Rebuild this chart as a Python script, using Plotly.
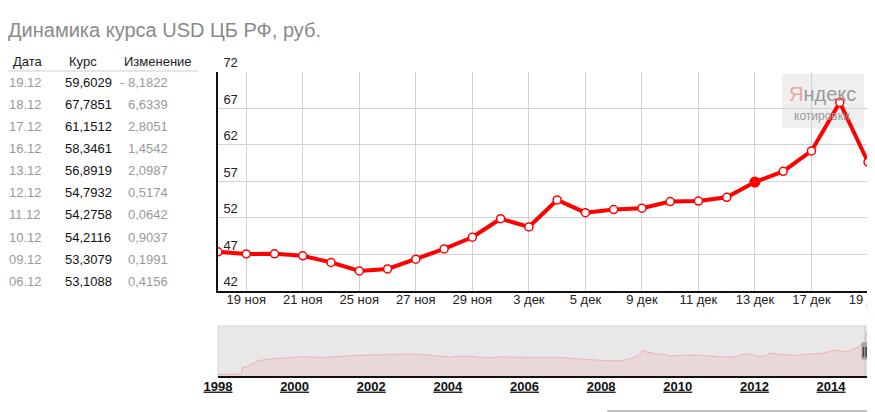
import plotly.graph_objects as go

W, H = 875, 412
OFF = 8  # page body margin
FONT = "Arial, Liberation Sans, sans-serif"

# main chart: USD rate of the CBR, 18 Nov - 19 Dec 2014
day_labels = ["18 ноя", "19 ноя", "20 ноя", "21 ноя", "22 ноя", "25 ноя", "26 ноя", "27 ноя",
              "28 ноя", "29 ноя", "2 дек", "3 дек", "4 дек", "5 дек", "6 дек", "9 дек",
              "10 дек", "11 дек", "12 дек", "13 дек", "16 дек", "17 дек", "18 дек", "19 дек"]
rates = [47.32, 47.04, 47.05, 46.78, 45.88, 44.70, 44.98, 46.32,
         47.72, 49.32, 51.86, 50.73, 54.43, 52.6932, 53.1088, 53.3079,
         54.2116, 54.2758, 54.7932, 56.8919, 58.3461, 61.1512, 67.7851, 59.6029]
highlight_day = "13 дек"
y_ticks = [42, 47, 52, 57, 62, 67, 72]

# table on the left
table_head = ["Дата", "Курс", "Изменение"]
table_dates = ["19.12", "18.12", "17.12", "16.12", "13.12", "12.12", "11.12", "10.12", "09.12", "06.12"]
table_rates = [59.6029, 67.7851, 61.1512, 58.3461, 56.8919, 54.7932, 54.2758, 54.2116, 53.3079, 53.1088]
table_changes = [-8.1822, 6.6339, 2.8051, 1.4542, 2.0987, 0.5174, 0.0642, 0.9037, 0.1991, 0.4156]

# navigator with the whole history
hist_dates = ["1998-01-01", "1998-08-10", "1998-08-25", "1998-10-01", "1998-12-01", "1999-01-15",
              "1999-04-01", "1999-08-01", "1999-11-01", "2000-01-15", "2000-07-01", "2000-10-15",
              "2001-03-01", "2001-06-01", "2001-12-01", "2002-05-01", "2002-09-15", "2003-01-15",
              "2003-08-01", "2004-01-15", "2004-06-01", "2004-11-15", "2005-03-01", "2005-04-15",
              "2006-03-01", "2006-10-15", "2007-04-01", "2007-09-15", "2008-02-15", "2008-07-15",
              "2008-10-15", "2008-12-15", "2009-02-01", "2009-03-20", "2009-06-10", "2009-08-15",
              "2009-10-15", "2010-01-15", "2010-07-15", "2011-02-01", "2011-07-01", "2011-09-15",
              "2011-12-15", "2012-01-15", "2012-04-15", "2012-05-20", "2012-10-15", "2013-01-20",
              "2013-06-01", "2013-10-15", "2014-02-15", "2014-05-15", "2014-07-15", "2014-09-25",
              "2014-11-10", "2014-12-16", "2014-12-19"]
hist_rates = [6.0, 6.3, 14.7, 15.5, 19.7, 22.6,
              24.7, 25.5, 26.8, 28.0, 27.6, 27.2,
              28.0, 29.3, 30.1, 30.5, 31.8, 31.4,
              29.7, 27.6, 28.9, 27.6, 26.4, 27.6,
              27.6, 27.2, 26.0, 24.7, 23.0, 23.0,
              26.0, 29.3, 36.0, 33.5, 31.4, 31.4,
              28.9, 29.7, 30.1, 28.0, 27.6, 31.4,
              31.4, 28.5, 28.5, 32.3, 31.0, 29.3,
              31.4, 32.3, 36.4, 34.3, 36.4, 40.5,
              46.8, 61.4, 57.0]
nav_years = [1998, 2000, 2002, 2004, 2006, 2008, 2010, 2012, 2014]


def px(x):
    return (x - OFF) / W


def py(y):
    return 1 - (y - OFF) / H


idx = list(range(len(rates)))
hl = day_labels.index(highlight_day)

fig = go.Figure()
fig.add_trace(go.Scatter(
    x=idx, y=rates, mode="lines+markers", xaxis="x", yaxis="y",
    line=dict(color="#ff0000", width=4),
    marker=dict(size=8, color="white", line=dict(color="#ff0000", width=1.5)),
    hoverinfo="skip", showlegend=False))
fig.add_trace(go.Scatter(
    x=[idx[hl]], y=[rates[hl]], mode="markers", xaxis="x", yaxis="y",
    marker=dict(size=11, color="#ff0000"), hoverinfo="skip", showlegend=False))
fig.add_trace(go.Scatter(
    x=hist_dates, y=hist_rates, mode="lines", xaxis="x2", yaxis="y2",
    line=dict(color="#f0b2b2", width=1), fill="tozeroy", fillcolor="#e9d8d8",
    hoverinfo="skip", showlegend=False))

x_dom = [px(218), px(868)]
fig.update_layout(
    width=W, height=H, autosize=False,
    margin=dict(l=0, r=0, t=0, b=0, autoexpand=False),
    paper_bgcolor="white", plot_bgcolor="white",
    font=dict(family=FONT, size=13, color="#222"),
    xaxis=dict(domain=x_dom, anchor="y", range=[0, len(rates) - 1],
               tickvals=idx[1::2], ticktext=day_labels[1::2],
               showgrid=True, gridcolor="#d2d2d2", gridwidth=1,
               showline=True, linecolor="#111", linewidth=2, automargin=False,
               ticks="", ticklabelstandoff=-4, ticklabeloverflow="allow", zeroline=False,
               tickfont=dict(size=13, color="#222")),
    yaxis=dict(domain=[py(290.7), py(71.7)], anchor="x", range=[y_ticks[0], y_ticks[-1]],
               tickvals=y_ticks, ticklabelposition="inside top", ticklabeloverflow="allow",
               showgrid=True, gridcolor="#d2d2d2", gridwidth=1, automargin=False,
               showline=True, linecolor="#111", linewidth=2, ticklabelstandoff=4,
               ticks="", zeroline=False, tickfont=dict(size=13, color="#222")),
    xaxis2=dict(domain=x_dom, anchor="y2", type="date",
                range=[hist_dates[0], hist_dates[-1]],
                tickvals=[f"{y}-01-01" for y in nav_years],
                ticktext=[f"<b><u>{y}</u></b>" for y in nav_years],
                showgrid=False, showline=True, linecolor="#111", linewidth=2,
                automargin=False, ticks="", ticklabelstandoff=-3, ticklabeloverflow="allow",
                zeroline=False, tickfont=dict(size=13, color="#111")),
    yaxis2=dict(domain=[py(376), py(326)], anchor="x2", range=[3.9, 66.4],
                visible=False, showgrid=False, zeroline=False, automargin=False),
)

shapes = [
    # navigator background
    dict(type="rect", xref="x2 domain", yref="y2 domain", x0=0, x1=1, y0=0, y1=1,
         fillcolor="#e8e8e8", line=dict(color="#d4d4d4", width=1), layer="below"),
    # selected window
    dict(type="line", xref="paper", yref="paper", x0=px(865), x1=px(865), y0=py(326), y1=py(376),
         line=dict(color="#c8c8c8", width=1)),
    # handle
    dict(type="rect", xref="paper", yref="paper", x0=px(862), x1=px(871), y0=py(359), y1=py(343),
         fillcolor="#a8a8a8", line=dict(color="#999", width=1)),
    # watermark box
    dict(type="rect", xref="paper", yref="paper", x0=px(782), x1=px(864), y0=py(128), y1=py(74),
         fillcolor="rgba(236,236,236,0.85)", line=dict(width=0), layer="below"),
    # header underline
    dict(type="line", xref="paper", yref="paper", x0=px(6), x1=px(198), y0=py(71), y1=py(71),
         line=dict(color="#cfcfcf", width=1)),
    # scrollbar at the bottom
    dict(type="line", xref="paper", yref="paper", x0=px(607), x1=px(875), y0=py(411), y1=py(411),
         line=dict(color="#bdbdbd", width=2)),
]

ann = [
    dict(text="Динамика курса USD ЦБ РФ, руб.", x=px(6), y=py(30), xanchor="left", yanchor="middle",
         font=dict(size=20, color="#8a8a8a")),
    dict(text="<span style='color:#f2a4a4'>Я</span>ндекс", x=px(822), y=py(94), xanchor="center",
         yanchor="middle", font=dict(size=20, color="#9a9a9a")),
    dict(text="котировки", x=px(822), y=py(116), xanchor="center", yanchor="middle",
         font=dict(size=12, color="#9a9a9a")),
    dict(text="<b>|||</b>", x=px(866.5), y=py(351), xanchor="center", yanchor="middle",
         font=dict(size=10, color="#333")),
]

head_x = [27.5, 83, 158]
for hx, txt in zip(head_x, table_head):
    ann.append(dict(text=txt, x=px(hx), y=py(61), xanchor="center", yanchor="middle",
                    font=dict(size=13, color="#222")))

for i, (d, r, c) in enumerate(zip(table_dates, table_rates, table_changes)):
    yy = py(82.3 + i * 22.1)
    ch = f"{abs(c):.4f}".replace(".", ",")
    if c < 0:
        ch = "- " + ch
    ann.append(dict(text=d, x=px(7), y=yy, xanchor="left", yanchor="middle",
                    font=dict(size=13, color="#999")))
    ann.append(dict(text=f"{r:.4f}".replace(".", ","), x=px(63), y=yy, xanchor="left",
                    yanchor="middle", font=dict(size=13, color="#111")))
    ann.append(dict(text=ch, x=px(170), y=yy, xanchor="right", yanchor="middle",
                    font=dict(size=13, color="#999")))

for a in ann:
    a.update(xref="paper", yref="paper", showarrow=False)

fig.update_layout(shapes=shapes, annotations=ann)
fig.write_html("out.html")
